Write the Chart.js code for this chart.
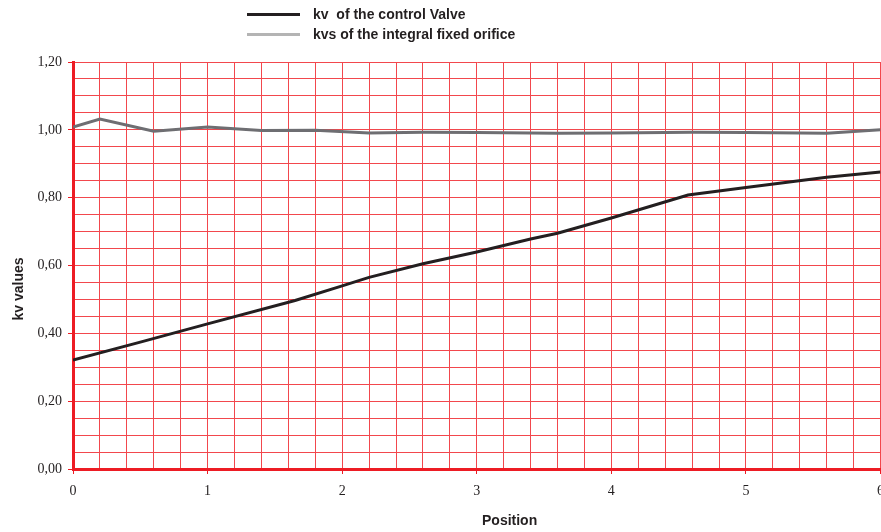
<!DOCTYPE html>
<html>
<head>
<meta charset="utf-8">
<script src="https://cdn.jsdelivr.net/npm/chart.js@4.4.0/dist/chart.umd.min.js"></script>
<style>
  html, body { margin: 0; padding: 0; background: #fff; overflow: hidden; }
  #wrap { position: relative; width: 881px; height: 532px; overflow: hidden; }
  #box { position: absolute; left: 0; top: 0; width: 893px; height: 532px; }
  .lg { position: absolute; left: 247px; font: bold 14px "Liberation Sans", Arial, sans-serif; color: #231f20; white-space: pre; }
  .lg span { display: inline-block; width: 53px; height: 3px; vertical-align: middle; margin-right: 13px; position: relative; top: -1px; }
  .ttl { position: absolute; font: bold 14px "Liberation Sans", Arial, sans-serif; color: #231f20; white-space: nowrap; }
</style>
</head>
<body>
<div id="wrap">
  <div id="box"><canvas id="chart"></canvas></div>
  <div id="legend"></div>
  <div class="ttl" id="ytitle" style="left:-16px; top:281px; transform: rotate(-90deg); width:68px; text-align:center;">kv values</div>
  <div class="ttl" id="xtitle" style="left:482px; top:512px;">Position</div>
</div>
<script>
// kv of the control valve
const posKv = [0, 0.5, 1.0, 1.65, 2.0, 2.2, 2.6, 3.0, 3.4, 3.6, 4.0, 4.57, 5.0, 5.6, 6.0];
const kvValues = [0.321, 0.374, 0.428, 0.497, 0.54, 0.565, 0.605, 0.64, 0.678, 0.695, 0.74, 0.808, 0.83, 0.86, 0.876];

// kvs of the integral fixed orifice
const posKvs = [0, 0.2, 0.6, 1.0, 1.4, 1.8, 2.2, 2.6, 3.0, 3.6, 4.0, 4.6, 5.0, 5.6, 6.0];
const kvsValues = [1.008, 1.032, 0.996, 1.008, 0.998, 0.999, 0.991, 0.993, 0.992, 0.99, 0.991, 0.993, 0.992, 0.99, 1.0];

const seriesLabels = ['kv  of the control Valve', 'kvs of the integral fixed orifice'];
const legendColors = ['#231f20', '#b4b4b4'];

const red = '#ed1c24';
const gridRed = '#f2474d';
const tickFont = { family: '"Liberation Serif", "Times New Roman", serif', size: 14 };

const toPoints = (xs, ys) => xs.map((x, i) => ({ x: x, y: ys[i] }));

// legend as html
const legendEl = document.getElementById('legend');
seriesLabels.forEach((lbl, i) => {
    const row = document.createElement('div');
    row.className = 'lg';
    row.style.top = (6 + i * 20) + 'px';
    row.innerHTML = `<span style="background:${legendColors[i]}"></span>${lbl}`;
    legendEl.appendChild(row);
});

new Chart(document.getElementById('chart'), {
    type: 'line',
    data: {
        datasets: [{
            label: seriesLabels[0],
            data: toPoints(posKv, kvValues),
            borderColor: '#231f20',
            borderWidth: 3,
            pointRadius: 0,
            tension: 0
        }, {
            label: seriesLabels[1],
            data: toPoints(posKvs, kvsValues),
            borderColor: '#6e6e72',
            borderWidth: 3,
            pointRadius: 0,
            tension: 0
        }]
    },
    options: {
        responsive: true,
        maintainAspectRatio: false,
        animation: false,
        layout: { padding: { left: 0, top: 62, right: 0, bottom: 0 } },
        plugins: {
            legend: { display: false },
            tooltip: { enabled: false }
        },
        scales: {
            x: {
                type: 'linear',
                min: 0,
                max: 6,
                ticks: {
                    stepSize: 0.2,
                    autoSkip: false,
                    maxRotation: 0,
                    color: '#231f20',
                    font: tickFont,
                    padding: 9,
                    callback: v => Math.abs(v - Math.round(v)) < 1e-6 ? String(Math.round(v)) : ''
                },
                grid: {
                    color: gridRed,
                    lineWidth: 1,
                    tickLength: 5,
                    tickColor: ctx => ctx.tick && Math.abs(ctx.tick.value - Math.round(ctx.tick.value)) < 1e-6 ? red : 'rgba(0,0,0,0)'
                },
                border: { color: red, width: 3 },
                afterFit: s => { s.height = 63; }
            },
            y: {
                min: 0,
                max: 1.2,
                ticks: {
                    stepSize: 0.05,
                    autoSkip: false,
                    color: '#231f20',
                    font: tickFont,
                    padding: 6,
                    callback: v => Math.round(v * 100) % 20 === 0 ? v.toFixed(2).replace('.', ',') : ''
                },
                grid: {
                    color: gridRed,
                    lineWidth: 1,
                    tickLength: 5,
                    tickColor: ctx => ctx.tick && Math.round(ctx.tick.value * 100) % 20 === 0 ? red : 'rgba(0,0,0,0)'
                },
                border: { color: red, width: 3 },
                afterFit: s => { s.width = 73; }
            }
        }
    }
});
</script>
</body>
</html>
